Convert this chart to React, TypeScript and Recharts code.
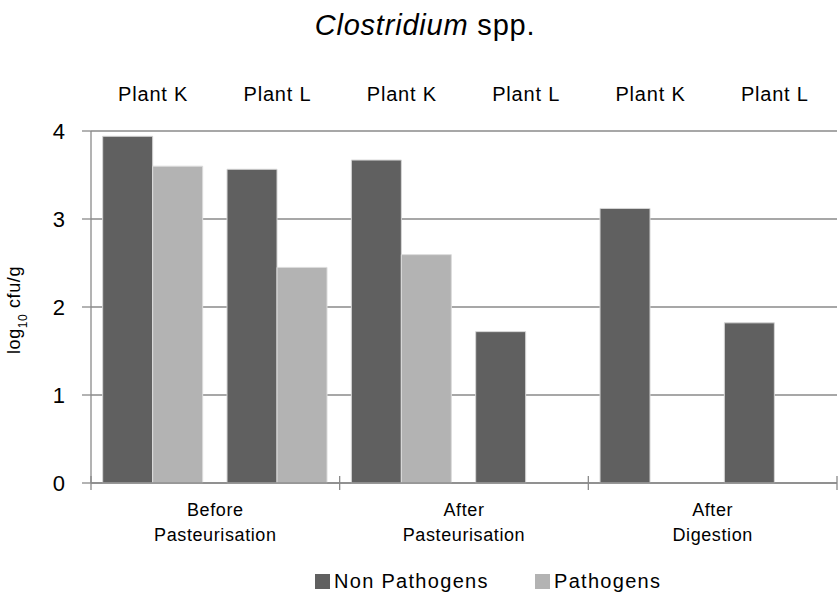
import { BarChart, Bar, XAxis, YAxis, CartesianGrid, Legend, Label } from 'recharts';

const plants = ['Plant K', 'Plant L', 'Plant K', 'Plant L', 'Plant K', 'Plant L'];
const stages = [
  ['Before', 'Pasteurisation'],
  ['After', 'Pasteurisation'],
  ['After', 'Digestion'],
];
const nonPathogens = [3.94, 3.565, 3.67, 1.72, 3.12, 1.82];
const pathogens = [3.6, 2.45, 2.595, null, null, null];
const yTicks = [0, 1, 2, 3, 4];

const data = plants.map((plant, i) => ({
  plant,
  stage: Math.floor(i / 2),
  nonPathogens: nonPathogens[i],
  pathogens: pathogens[i],
}));

const W = 838;
const H = 598;
// plot area: x 91..837, y 131..483
const TOP_AXIS_H = 30;
const BOTTOM_AXIS_H = 30;
const Y_AXIS_W = 40;
const margin = { top: 131 - TOP_AXIS_H, right: 1, bottom: 115 - BOTTOM_AXIS_H, left: 91 - Y_AXIS_W };
const band = (W - 91 - 1) / plants.length;
const FONT = '"Liberation Sans", Arial, sans-serif';
const AXIS = '#8a8a8a';
const DARK = '#606060';
const LIGHT = '#b3b3b3';

function PlantTick({ x, payload }: any) {
  return (
    <text x={x} y={101} textAnchor="middle" fontFamily={FONT} fontSize={20} letterSpacing={0.8} fill="#000">
      {payload.value}
    </text>
  );
}

function StageTick({ x, index }: any) {
  const axisY = H - 115;
  const parts = [];
  if (index % 2 === 0) {
    const left = x - band / 2;
    const cx = x + band / 2;
    const lines = stages[index / 2];
    parts.push(<line key="t" x1={left} x2={left} y1={axisY - 7} y2={axisY + 7} stroke={AXIS} strokeWidth={1.3} />);
    parts.push(
      <text key="a" x={cx} y={516} textAnchor="middle" fontFamily={FONT} fontSize={18} letterSpacing={0.6} fill="#000">
        {lines[0]}
      </text>
    );
    parts.push(
      <text key="b" x={cx} y={541} textAnchor="middle" fontFamily={FONT} fontSize={18} letterSpacing={0.6} fill="#000">
        {lines[1]}
      </text>
    );
  }
  if (index === plants.length - 1) {
    const right = x + band / 2;
    parts.push(<line key="r" x1={right} x2={right} y1={axisY - 7} y2={axisY + 7} stroke={AXIS} strokeWidth={1.3} />);
  }
  return <g>{parts}</g>;
}

function YLabel() {
  return (
    <text
      x={20}
      y={310}
      transform="rotate(-90, 20, 310)"
      textAnchor="middle"
      fontFamily={FONT}
      fontSize={18}
      letterSpacing={0.6}
      fill="#000"
    >
      log<tspan baselineShift="sub" fontSize={12}>10</tspan> cfu/g
    </text>
  );
}

function LegendContent() {
  const item = (color: string, text: string, width: number) => (
    <div style={{ display: 'flex', alignItems: 'center', width }}>
      <span style={{ display: 'inline-block', width: 15, height: 15, background: color, marginRight: 4 }} />
      <span style={{ fontFamily: FONT, fontSize: 20, letterSpacing: 1.3, color: '#000' }}>{text}</span>
    </div>
  );
  return (
    <div style={{ display: 'flex', paddingLeft: 315 }}>
      {item(DARK, 'Non Pathogens', 220)}
      {item(LIGHT, 'Pathogens', 160)}
    </div>
  );
}

export default function App() {
  return (
    <div style={{ position: 'absolute', left: 0, top: 0, width: W, height: H, background: '#fff' }}>
      <div
        style={{
          position: 'absolute',
          left: 0,
          top: 9,
          width: 850,
          textAlign: 'center',
          fontFamily: FONT,
          fontSize: 29,
          letterSpacing: 0.8,
          color: '#000',
        }}
      >
        <i>Clostridium</i> spp.
      </div>
      <BarChart width={W} height={H} data={data} margin={margin} barCategoryGap="9.4%" barGap={0}>
        <CartesianGrid horizontal vertical={false} stroke={AXIS} strokeWidth={1.3} />
        <XAxis
          xAxisId="top"
          orientation="top"
          dataKey="plant"
          height={TOP_AXIS_H}
          axisLine={false}
          tickLine={false}
          tick={<PlantTick />}
          interval={0}
        />
        <XAxis
          xAxisId="bottom"
          dataKey="stage"
          height={BOTTOM_AXIS_H}
          axisLine={{ stroke: AXIS, strokeWidth: 1.3 }}
          tickLine={false}
          tick={<StageTick />}
          interval={0}
        />
        <YAxis
          domain={[0, 4]}
          ticks={yTicks}
          width={Y_AXIS_W}
          axisLine={{ stroke: AXIS, strokeWidth: 1.3 }}
          tickLine={{ stroke: AXIS, strokeWidth: 1.3 }}
          tickSize={9}
          tickMargin={17}
          tick={{ fontFamily: FONT, fontSize: 22, fill: '#000' }}
        >
          <Label content={<YLabel />} />
        </YAxis>
        <Legend verticalAlign="middle" align="center" content={<LegendContent />} wrapperStyle={{ top: 570, left: 0, width: W }} />
        <Bar xAxisId="bottom" dataKey="nonPathogens" name="Non Pathogens" fill={DARK} stroke="#d6d6d6" strokeWidth={1} isAnimationActive={false} />
        <Bar xAxisId="bottom" dataKey="pathogens" name="Pathogens" fill={LIGHT} stroke="#dcdcdc" strokeWidth={1} isAnimationActive={false} />
      </BarChart>
    </div>
  );
}
